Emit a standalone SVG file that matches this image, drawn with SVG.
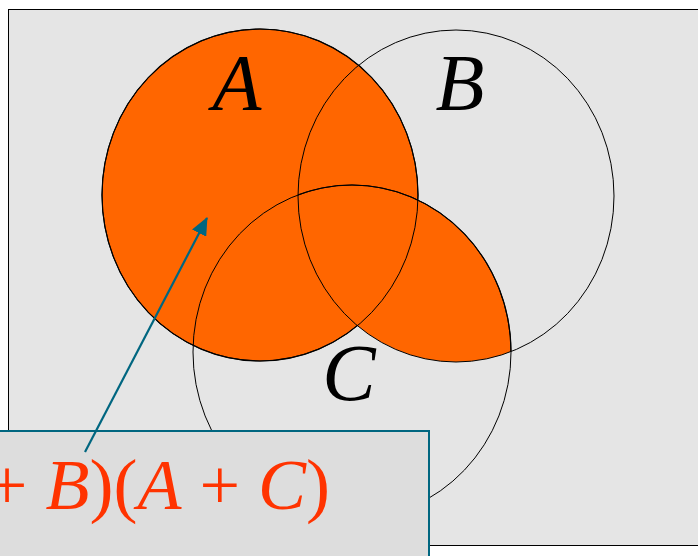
<svg xmlns="http://www.w3.org/2000/svg" width="698" height="556" viewBox="0 0 698 556">
<style>
.outline{fill:none;stroke:#000;stroke-width:1}
.lbl{font-style:italic;font-size:80px;fill:#000;text-anchor:middle}
.formula{font-size:72px;fill:#ff3300}
.it{font-style:italic}
.conn{stroke:#006680;stroke-width:2.2;fill:none}
</style>
<defs>
<clipPath id="clipB"><ellipse cx="456" cy="196" rx="158" ry="166"/></clipPath>
<marker id="ah" markerWidth="18" markerHeight="16" refX="17" refY="8" orient="auto" markerUnits="userSpaceOnUse" viewBox="0 0 18 16">
<path d="M0,0 L18,8 L0,16 Z" fill="#006680"/>
</marker>
</defs>
<rect x="8.5" y="9.5" width="700" height="536" fill="#e5e5e5" stroke="#000" stroke-width="1"/>
<g id="A">
<ellipse cx="260" cy="195" rx="158" ry="166" fill="#ff6600" stroke="#000" stroke-width="1.2"/>
</g>
<g id="BC">
<ellipse cx="352" cy="352" rx="159" ry="167" fill="#ff6600" stroke="#000" stroke-width="1.2" clip-path="url(#clipB)"/>
</g>
<g id="B">
<ellipse class="outline" cx="456" cy="196" rx="158" ry="166"/>
<text class="lbl" font-family="'Liberation Serif', 'DejaVu Serif', serif" x="460" y="110">B</text>
</g>
<g id="C">
<ellipse class="outline" cx="352" cy="352" rx="159" ry="167"/>
<text class="lbl" font-family="'Liberation Serif', 'DejaVu Serif', serif" x="349" y="400">C</text>
</g>
<g id="A-label">
<ellipse class="outline" cx="260" cy="195" rx="158" ry="166"/>
<text class="lbl" font-family="'Liberation Serif', 'DejaVu Serif', serif" x="237" y="110">A</text>
</g>
<g id="label-box">
<rect x="-10" y="431" width="439" height="140" fill="#dddddd" stroke="#006680" stroke-width="2"/>
<text class="formula" font-family="'Liberation Serif', 'DejaVu Serif', serif" x="330" y="509" text-anchor="end">(<tspan class="it">A</tspan> + <tspan class="it">B</tspan>)(<tspan class="it">A</tspan> + <tspan class="it">C</tspan>)</text>
</g>
<g id="connectors">
<line class="conn" x1="85" y1="452" x2="207" y2="218" marker-end="url(#ah)"/>
</g>
</svg>
